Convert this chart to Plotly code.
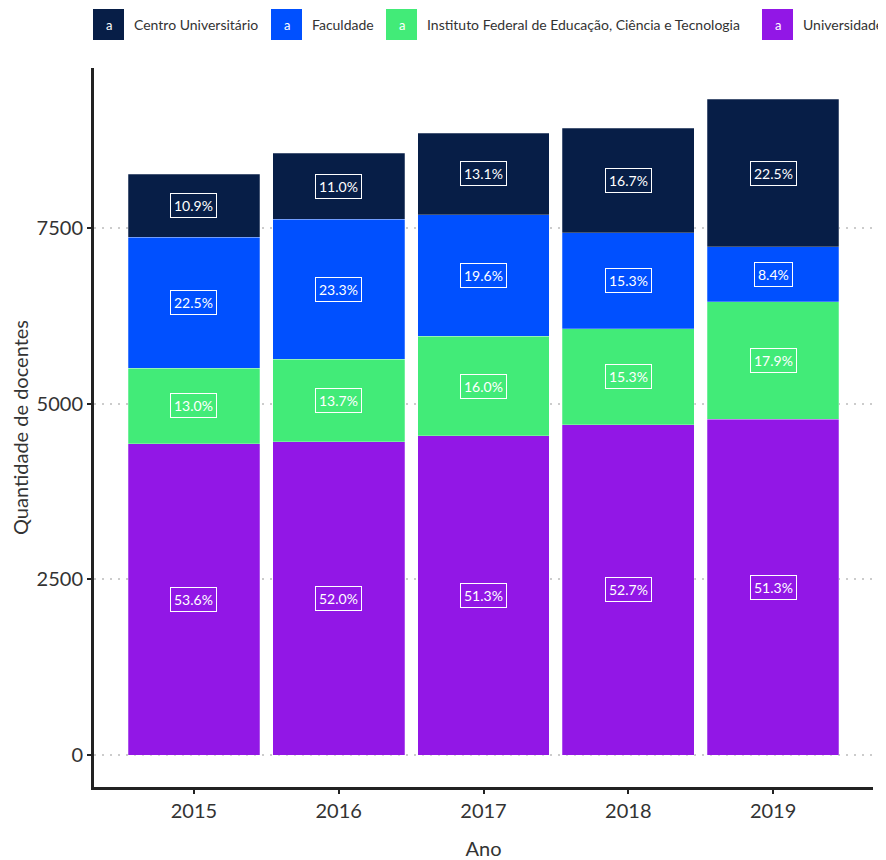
import plotly.graph_objects as go

anos = ["2015", "2016", "2017", "2018", "2019"]
categorias = ["Universidade", "Instituto Federal de Educação, Ciência e Tecnologia", "Faculdade", "Centro Universitário"]
universidade = [4432, 4455, 4541, 4702, 4782]
instituto = [1075, 1174, 1416, 1365, 1668]
faculdade = [1860, 1996, 1735, 1365, 783]
centro = [901, 942, 1160, 1490, 2097]
cores = {"Universidade": "#9217E6", "Instituto Federal de Educação, Ciência e Tecnologia": "#42EB78",
         "Faculdade": "#0050FF", "Centro Universitário": "#071E47"}
series = {"Universidade": universidade, "Instituto Federal de Educação, Ciência e Tecnologia": instituto,
          "Faculdade": faculdade, "Centro Universitário": centro}
y_ticks = [0, 2500, 5000, 7500]

FONT = "Lato"
OFF = 8  # page body margin
W, H = 878, 852
SW, SH = 886, 860
# plot area on screen: x 94..873, y 68..787
L, T = 94 - OFF, 68 - OFF
R, B = W - (873 - OFF), H - (787 - OFF)
pw, ph = W - L - R, H - T - B

fig = go.Figure()
totais = [sum(series[c][i] for c in categorias) for i in range(len(anos))]
base = [0] * len(anos)
annotations = []
for c in categorias:
    vals = series[c]
    fig.add_trace(go.Bar(x=list(range(len(anos))), y=vals, name=c,
                         marker=dict(color=cores[c], line=dict(color="rgba(255,255,255,0.5)", width=0.5)),
                         width=0.91, showlegend=False))
    for i, a in enumerate(anos):
        mid = base[i] + vals[i] / 2
        annotations.append(dict(x=i, y=mid, xref="x", yref="y", text=f"{100*vals[i]/totais[i]:.1f}%",
                                showarrow=False, font=dict(family=FONT, size=14, color="white"),
                                bgcolor=cores[c], bordercolor="white", borderwidth=1, borderpad=3))
        base[i] += vals[i]

# custom legend (ggplot style); coordinates are screen pixels
def px2paper(x, y):
    return (x - OFF - L) / pw, (H - B - (y - OFF)) / ph

legend_items = [("Centro Universitário", 93), ("Faculdade", 271),
                ("Instituto Federal de Educação, Ciência e Tecnologia", 386), ("Universidade", 762)]
shapes = []
for name, x0 in legend_items:
    ax0, ay0 = px2paper(x0, 40)
    ax1, ay1 = px2paper(x0 + 31, 9)
    shapes.append(dict(type="rect", xref="paper", yref="paper", x0=ax0, x1=ax1, y0=ay0, y1=ay1,
                       fillcolor=cores[name], line=dict(width=0)))
    cx, cy = px2paper(x0 + 15.5, 24.5)
    annotations.append(dict(x=cx, y=cy, xref="paper", yref="paper", text="a", showarrow=False,
                            font=dict(family=FONT, size=13, color="white"), xanchor="center", yanchor="middle"))
    tx, ty = px2paper(x0 + 39, 24.5)
    annotations.append(dict(x=tx, y=ty, xref="paper", yref="paper", text=name, showarrow=False,
                            font=dict(family=FONT, size=14, color="#333333"), xanchor="left", yanchor="middle"))

fig.update_layout(
    barmode="stack", width=W, height=H, plot_bgcolor="white", paper_bgcolor="white",
    margin=dict(l=L, r=R, t=T, b=B, autoexpand=False), font=dict(family=FONT, color="#333333"),
    annotations=annotations, shapes=shapes,
    xaxis=dict(range=[-0.69, 4.69], tickvals=list(range(len(anos))), ticktext=anos,
               showline=True, linecolor="#222222", linewidth=3, automargin=False,
               ticks="outside", ticklen=4, tickwidth=2, tickcolor="#222222", showgrid=False, zeroline=False,
               tickfont=dict(size=20, color="#333333"),
               title=dict(text="Ano", font=dict(size=20, color="#333333"), standoff=22)),
    yaxis=dict(range=[-455, 9777], tickvals=y_ticks, ticktext=[str(v) for v in y_ticks],
               showline=True, linecolor="#222222", linewidth=3, automargin=False,
               ticks="outside", ticklen=4, tickwidth=2, tickcolor="#222222",
               showgrid=True, gridcolor="#CCCCCC", gridwidth=1.5, griddash="2px,6px", zeroline=False,
               tickfont=dict(size=20, color="#333333"),
               title=dict(text="Quantidade de docentes", font=dict(size=20, color="#333333"), standoff=10)),
)
fig.write_html("out.html")
